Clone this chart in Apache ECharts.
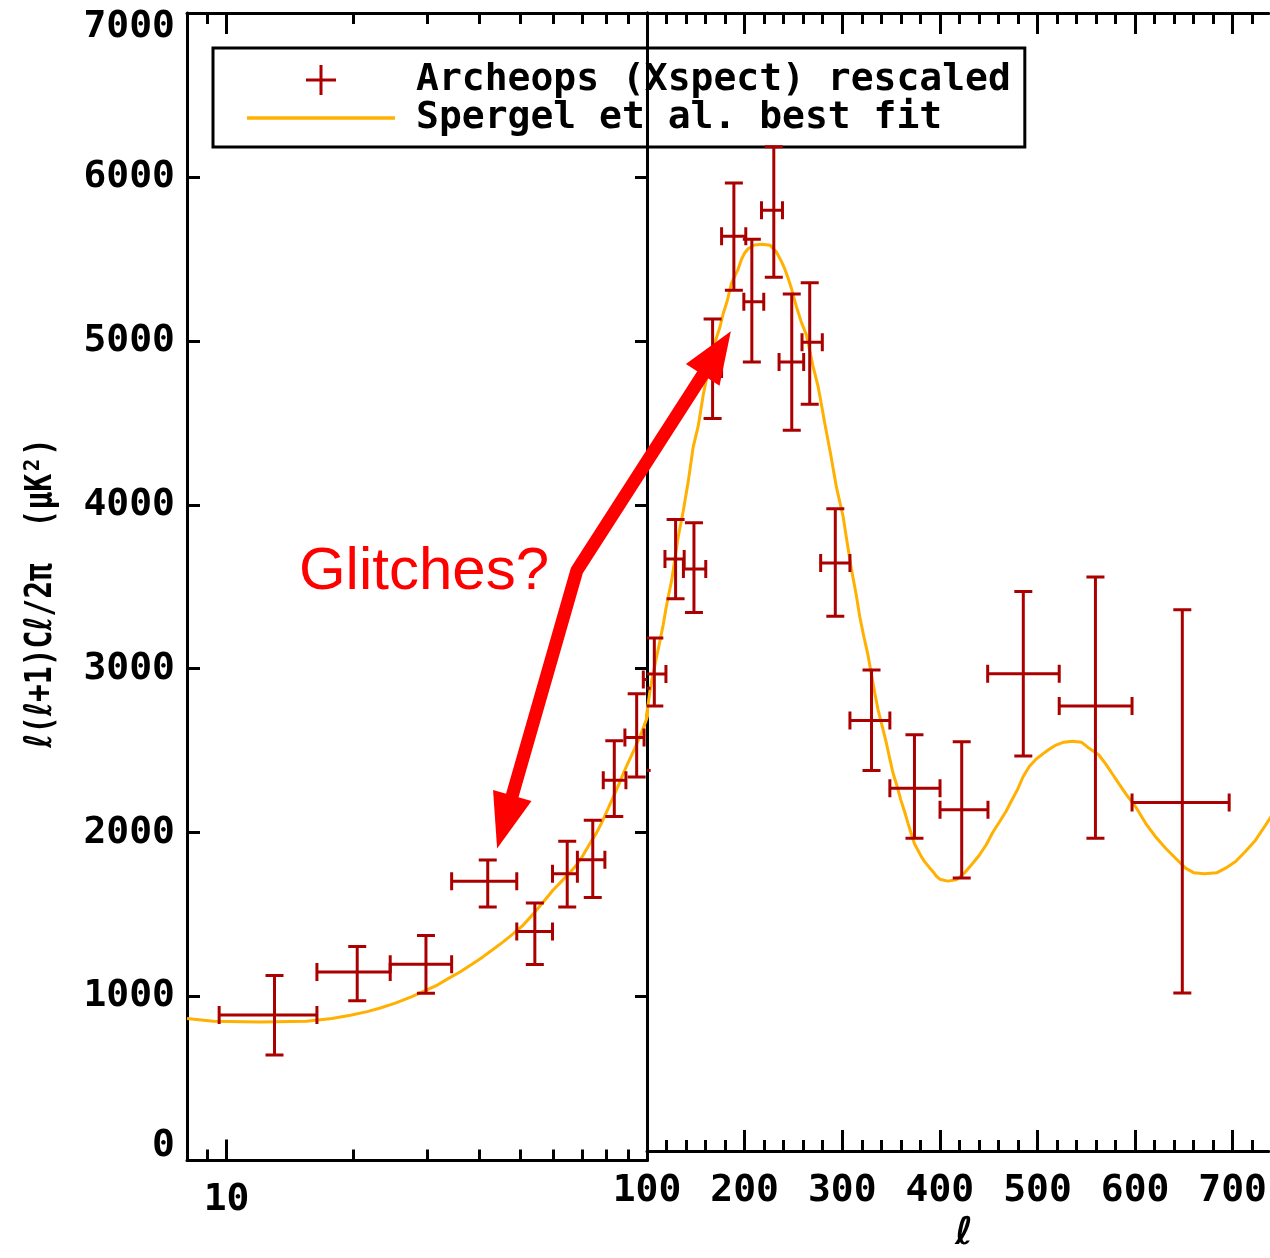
<!DOCTYPE html>
<html>
<head>
<meta charset="utf-8">
<script src="https://cdn.jsdelivr.net/npm/echarts@6/dist/echarts.min.js"></script>
<style>
  html, body { margin: 0; padding: 0; background: #ffffff; }
  #chart { width: 1270px; height: 1258px; }
</style>
</head>
<body>
<div id="chart"></div>
<script>
// Archeops band powers: bin centre, bin edges, power and 1-sigma bounds (muK^2)
const bandEll   = [13, 20.45, 29.8, 41.8, 54.1, 64.6, 74.3, 83.6, 94.5, 107.5, 129.3, 148.1, 167.2, 189, 207.4, 229.9, 248.3, 266.7, 292.9, 330, 374, 422.4, 485.5, 559.4, 648.4];
const bandEllLo = [9.6, 16.4, 24.5, 34.3, 49.0, 59.6, 68.3, 78.7, 88.6, 98.0, 118.4, 137.3, 160.2, 176.4, 199.2, 217.3, 235.3, 258.8, 277.9, 307.9, 348.8, 400.2, 449.0, 522.3, 596.9];
const bandEllHi = [16.4, 24.5, 34.3, 49.0, 59.6, 68.3, 79.4, 89.1, 98.4, 119.4, 138.1, 160.2, 176.4, 201.2, 219.6, 238.8, 260.5, 279.6, 307.9, 348.8, 400.2, 449.3, 522.3, 596.9, 696.4];
const bandPower = [888, 1150, 1197, 1703, 1397, 1750, 1835, 2320, 2580, 2934, 3641, 3580, 4810, 5626, 5224, 5786, 4854, 4974, 3617, 2648, 2232, 2099, 2936, 2737, 2144];
const bandLower = [643, 974, 1021, 1547, 1196, 1547, 1605, 2099, 2340, 2737, 3397, 3312, 4505, 5294, 4854, 5375, 4433, 4594, 3289, 2341, 1924, 1679, 2430, 1924, 972];
const bandUpper = [1128, 1305, 1372, 1833, 1571, 1947, 2076, 2561, 2847, 3156, 3884, 3864, 5118, 5955, 5609, 6178, 5272, 5341, 3950, 2958, 2561, 2518, 3442, 3531, 3330];

// Best-fit model spectrum
const fitEll = [8.05, 9.3, 12, 15.5, 17.8, 19.7, 21.6, 23.2, 25.2, 27.5, 29.6, 31.8, 33.4, 35.9, 38.5, 40.7, 43.0, 45.4, 48.0, 50.7,
  53.6, 56.6, 59.8, 63.1, 66.0, 68.2, 70.4, 73.2, 75.9, 78.0, 80.9, 83.2, 85.4, 87.8, 90.3, 92.8, 96.2, 98.0, 100,
  103, 106, 109.9, 113, 116.7, 119.4, 122.8, 125.3, 128, 132, 137.1, 142.2, 147.3, 152.5, 157.6, 162.7, 169.6, 174.6,
  178, 182, 186.6, 193.4, 196.8, 200.2, 203.6, 210, 218, 226, 232.6, 237.7, 241, 244.5, 248, 253, 258, 263.3, 270,
  275.2, 278.6, 282, 288, 294, 301, 304.3, 309.4, 314.5, 318, 322.3, 326.4, 333.4, 336.7, 341, 345.2, 348.8, 352, 356,
  360, 364, 367.5, 371, 374, 377.6, 381, 384.4, 389, 393, 396.5, 400, 408, 416.7, 425, 433.7, 440.6, 447.4, 454, 461,
  467.9, 473, 479.9, 485, 491.6, 498.5, 505.2, 512, 519, 527, 536, 545, 553, 563, 570, 576.8, 583.6, 590.5, 600.7,
  611, 621, 631.3, 641.5, 651.7, 660, 671, 684, 692.7, 703, 713, 723.4, 733.6, 740];
const fitPower = [866, 850, 845, 850, 866, 886, 908, 930, 960, 998, 1035, 1072, 1105, 1150, 1200, 1242, 1287, 1332, 1382, 1435,
  1503, 1575, 1650, 1712, 1765, 1808, 1860, 1935, 2000, 2060, 2150, 2220, 2285, 2360, 2430, 2495, 2585, 2640, 2700,
  2830, 2930, 3040, 3130, 3240, 3335, 3440, 3510, 3620, 3778, 3935, 4116, 4330, 4460, 4650, 4800, 4975, 5065,
  5150, 5225, 5340, 5425, 5485, 5525, 5550, 5573, 5578, 5572, 5530, 5472, 5427, 5370, 5305, 5195, 5100, 5020, 4830,
  4705, 4595, 4480, 4290, 4085, 3900, 3770, 3580, 3416, 3285, 3160, 3050, 2816, 2714, 2612, 2510, 2410, 2325, 2248,
  2160, 2085, 2014, 1945, 1890, 1850, 1811, 1780, 1746, 1718, 1690, 1672, 1660, 1668, 1709, 1770, 1821, 1882, 1958, 2024,
  2090, 2150, 2227, 2299, 2365, 2410, 2441, 2471, 2497, 2515, 2520, 2515, 2477, 2436, 2380, 2319, 2258, 2197, 2116,
  2014, 1933, 1862, 1801, 1740, 1712, 1705, 1712, 1740, 1781, 1842, 1912, 2004, 2063];

// Tick positions: logarithmic low-ell part and linear high-ell part
const logMajorTicks = [10];
const logMinorTicks = [9, 20, 30, 40, 50, 60, 70, 80, 90];
const linMajorTicks = [100, 200, 300, 400, 500, 600, 700];
const linMinorTicks = [120, 140, 160, 180, 220, 240, 260, 280, 320, 340, 360, 380, 420, 440, 460, 480,
  520, 540, 560, 580, 620, 640, 660, 680, 720];

// Annotation: "Glitches?" label and the double arrow [ell, power]
const glitchLabelAt = [14.86, 3587];
const arrowLowTip = [44.0, 1904];
const arrowBend = [68.1, 3599];
const arrowHighTip = [185.9, 5043];

const MONO = '"DejaVu Sans Mono", "DejaVu Sans", monospace';
const BAR_RED = '#aa0000';
const FIT_ORANGE = '#ffb000';
const INK = '#000000';

const bandData = bandEll.map((l, i) => [l, bandEllLo[i], bandEllHi[i], bandPower[i], bandLower[i], bandUpper[i]]);
const fitData = fitEll.map((l, i) => [l, fitPower[i]]);

function renderBand(params, api) {
  const l = api.value(0), lmin = api.value(1), lmax = api.value(2);
  const v = api.value(3), lo = api.value(4), hi = api.value(5);
  const top = api.coord([l, hi]);
  const bot = api.coord([l, lo]);
  const left = api.coord([lmin, v]);
  const right = api.coord([lmax, v]);
  const cap = 9;
  const st = { stroke: BAR_RED, lineWidth: 3, fill: null };
  const seg = (x1, y1, x2, y2) => ({ type: 'line', shape: { x1, y1, x2, y2 }, style: st });
  const cs = params.coordSys;
  return {
    type: 'group',
    clipPath: { type: 'rect', shape: { x: cs.x, y: cs.y - 12, width: cs.width, height: cs.height + 24 } },
    children: [
      seg(top[0], top[1], bot[0], bot[1]),
      seg(top[0] - cap, top[1], top[0] + cap, top[1]),
      seg(bot[0] - cap, bot[1], bot[0] + cap, bot[1]),
      seg(left[0], left[1], right[0], right[1]),
      seg(left[0], left[1] - cap, left[0], left[1] + cap),
      seg(right[0], right[1] - cap, right[0], right[1] + cap)
    ]
  };
}

const axisLineStyle = { color: INK, width: 3 };
const plainNumber = (v) => String(Math.round(v));
const tickFont = { color: INK, fontFamily: MONO, fontWeight: 'bold', fontSize: 38, lineHeight: 28, formatter: plainNumber };

const logAxisBase = {
  type: 'log', logBase: 10, min: 8.05, max: 100, gridIndex: 0,
  splitLine: { show: false }, minorTick: { show: false }, minorSplitLine: { show: false }
};
const linAxisBase = {
  type: 'value', min: 100, max: 737, interval: 100, gridIndex: 1,
  splitLine: { show: false }, minorTick: { show: false }, minorSplitLine: { show: false }
};
const yBase = { type: 'value', min: 0, max: 7000, interval: 1000, splitLine: { show: false } };

// one axis per tick family and side: long major ticks, short minor ticks
function tickAxis(base, position, ticks, length, withLine, labels) {
  return Object.assign({}, base, {
    position: position,
    axisLine: withLine ? { show: true, lineStyle: axisLineStyle } : { show: false },
    axisTick: { show: true, inside: true, length: length, customValues: ticks, lineStyle: axisLineStyle },
    axisLabel: labels ? Object.assign({ show: true, margin: 26, customValues: ticks }, tickFont) : { show: false }
  });
}

const chart = echarts.init(document.getElementById('chart'), null, { renderer: 'canvas' });

const linBottomMajor = tickAxis(linAxisBase, 'bottom', linMajorTicks, 21, true, true);
linBottomMajor.name = 'ℓ';
linBottomMajor.nameLocation = 'middle';
linBottomMajor.nameGap = 64;
linBottomMajor.nameTextStyle = { color: INK, fontFamily: MONO, fontWeight: 'bold', fontSize: 38, lineHeight: 38, padding: [0, 0, 0, 12] };

chart.setOption({
  animation: false,
  backgroundColor: '#ffffff',
  grid: [
    { left: 187, top: 13, width: 460, height: 1147.5, containLabel: false },
    { left: 647, top: 13, width: 623, height: 1147.5, containLabel: false }
  ],
  xAxis: [
    tickAxis(logAxisBase, 'bottom', logMajorTicks, 21, true, true),
    tickAxis(logAxisBase, 'bottom', logMinorTicks, 11, false, false),
    tickAxis(logAxisBase, 'top', logMajorTicks, 21, true, false),
    tickAxis(logAxisBase, 'top', logMinorTicks, 11, false, false),
    linBottomMajor,
    tickAxis(linAxisBase, 'bottom', linMinorTicks, 11, false, false),
    tickAxis(linAxisBase, 'top', linMajorTicks, 21, true, false),
    tickAxis(linAxisBase, 'top', linMinorTicks, 11, false, false)
  ],
  yAxis: [
    Object.assign({}, yBase, {
      gridIndex: 0, position: 'left',
      axisLine: { show: true, lineStyle: axisLineStyle },
      axisTick: { show: true, inside: true, length: 13, lineStyle: axisLineStyle },
      axisLabel: Object.assign({
        show: true, margin: 12,
        verticalAlignMinLabel: 'bottom', verticalAlignMaxLabel: 'top'
      }, tickFont)
    }),
    Object.assign({}, yBase, {
      gridIndex: 0, position: 'right',
      axisLine: { show: true, onZero: false, lineStyle: axisLineStyle },
      axisTick: { show: true, inside: true, length: 12, lineStyle: axisLineStyle },
      axisLabel: { show: false }
    }),
    Object.assign({}, yBase, {
      gridIndex: 1, position: 'left',
      axisLine: { show: true, onZero: false, lineStyle: axisLineStyle },
      axisTick: { show: false }, axisLabel: { show: false }
    })
  ],
  legend: {
    orient: 'vertical',
    left: 213, top: 48,
    padding: [13, 14, 10, 34],
    itemWidth: 148, itemHeight: 30, itemGap: 0,
    borderColor: INK, borderWidth: 3, borderRadius: 0,
    backgroundColor: 'transparent',
    selectedMode: false,
    textStyle: { color: INK, fontFamily: MONO, fontWeight: 'bold', fontSize: 38, lineHeight: 37.5, padding: [0, 0, 0, 16] },
    data: [
      { name: 'Archeops (Xspect) rescaled', icon: 'path://M13.5 0H16.5V13.5H30V16.5H16.5V30H13.5V16.5H0V13.5H13.5Z' },
      { name: 'Spergel et al. best fit', icon: 'path://M0 0H148V3.5H0Z' }
    ]
  },
  series: [
    {
      name: 'Spergel et al. best fit', type: 'line', xAxisIndex: 0, yAxisIndex: 0,
      data: fitData, symbol: 'none', showSymbol: false, clip: true, z: 3, silent: true,
      lineStyle: { color: FIT_ORANGE, width: 3 }, itemStyle: { color: FIT_ORANGE }
    },
    {
      name: 'Spergel et al. best fit', type: 'line', xAxisIndex: 4, yAxisIndex: 2,
      data: fitData, symbol: 'none', showSymbol: false, clip: true, z: 3, silent: true,
      lineStyle: { color: FIT_ORANGE, width: 3 }, itemStyle: { color: FIT_ORANGE }
    },
    {
      name: 'Archeops (Xspect) rescaled', type: 'custom', xAxisIndex: 0, yAxisIndex: 0,
      data: bandData, renderItem: renderBand, encode: { x: [0, 1, 2], y: [3, 4, 5] },
      itemStyle: { color: BAR_RED }, z: 5, silent: true
    },
    {
      name: 'Archeops (Xspect) rescaled', type: 'custom', xAxisIndex: 4, yAxisIndex: 2,
      data: bandData, renderItem: renderBand, encode: { x: [0, 1, 2], y: [3, 4, 5] },
      itemStyle: { color: BAR_RED }, z: 5, silent: true
    }
  ]
});

// Annotation layer: positioned from data coordinates once the grids are laid out
function toPx(pt, gridIndex) {
  return chart.convertToPixel({ gridIndex: gridIndex }, pt);
}
const gridOf = (pt) => (pt[0] <= 100 ? 0 : 1);
const pLow = toPx(arrowLowTip, gridOf(arrowLowTip));
const pBend = toPx(arrowBend, gridOf(arrowBend));
const pHigh = toPx(arrowHighTip, gridOf(arrowHighTip));
const pLabel = toPx(glitchLabelAt, gridOf(glitchLabelAt));

function arrowHead(tip, from, len, halfW) {
  const dx = tip[0] - from[0], dy = tip[1] - from[1];
  const d = Math.sqrt(dx * dx + dy * dy);
  const ux = dx / d, uy = dy / d;
  const bx = tip[0] - ux * len, by = tip[1] - uy * len;
  return {
    base: [bx + ux * 6, by + uy * 6],
    points: [tip, [bx - uy * halfW, by + ux * halfW], [bx + uy * halfW, by - ux * halfW]]
  };
}
const headLow = arrowHead(pLow, pBend, 55, 20);
const headHigh = arrowHead(pHigh, pBend, 52, 20);

chart.setOption({
  graphic: [
    {
      type: 'polyline', z: 100, silent: true,
      shape: { points: [headLow.base, pBend, headHigh.base] },
      style: { stroke: '#ff0000', lineWidth: 13, fill: null, lineJoin: 'round', lineCap: 'butt' }
    },
    { type: 'polygon', z: 100, silent: true, shape: { points: headLow.points }, style: { fill: '#ff0000' } },
    { type: 'polygon', z: 100, silent: true, shape: { points: headHigh.points }, style: { fill: '#ff0000' } },
    {
      type: 'text', z: 100, silent: true, x: pLabel[0], y: pLabel[1],
      style: {
        text: 'Glitches?', fill: '#ff0000',
        font: '60px "Liberation Sans", Arial, sans-serif',
        align: 'left', verticalAlign: 'middle', textAlign: 'left', textVerticalAlign: 'middle'
      }
    },
    {
      type: 'text', z: 100, silent: true, x: 41, y: 593,
      rotation: Math.PI / 2, scaleX: 0.78, scaleY: 1,
      style: {
        text: 'ℓ(ℓ+1)Cℓ/2π  (μK²)', fill: INK,
        font: 'bold 38px "DejaVu Sans Mono", "DejaVu Sans", monospace',
        align: 'center', verticalAlign: 'middle', textAlign: 'center', textVerticalAlign: 'middle'
      }
    }
  ]
});
</script>
</body>
</html>
